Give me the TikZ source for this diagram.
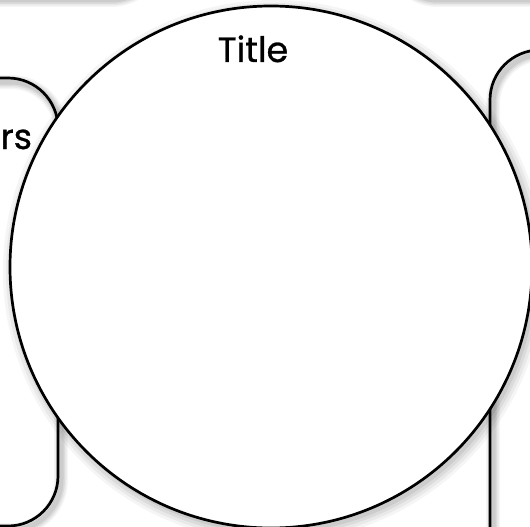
\documentclass[tikz,border=0pt]{standalone}
\usepackage{fontspec}
\setmainfont{Poppins}
\newfontfamily\medfont{Poppins}[FakeBold=0.8]
\begin{document}
\begin{tikzpicture}[x=1pt,y=-1pt,
  outline/.style={draw=black, line width=2.7pt},
  shadowline/.style={draw=black, shift={(3,4)}},
  lbl/.style={font=\medfont\fontsize{35}{40}\selectfont, inner sep=0pt, text=black}]
\useasboundingbox (0,0) rectangle (530,527);
% shadows of strokes (top shapes, side panels)
\foreach \w/\o in {14/0.04,11/0.05,8/0.06,5/0.07} {
  \draw[shadowline, opacity=\o, line width=\w pt, rounded corners=50pt] (-200,-300) rectangle (158,-4);
  \draw[shadowline, opacity=\o, line width=\w pt, rounded corners=50pt] (385,-300) rectangle (760,-4);
  \draw[shadowline, opacity=\o, line width=\w pt, rounded corners=50pt] (-200,78) rectangle (58,526);
  \draw[shadowline, opacity=\o, line width=\w pt, rounded corners=50pt] (490,50) rectangle (760,760);
}
% panels
\draw[outline, rounded corners=50pt] (-200,-300) rectangle (158,-4);
\draw[outline, rounded corners=50pt] (385,-300) rectangle (760,-4);
\draw[outline, rounded corners=50pt] (-200,78) rectangle (58,526);
\draw[outline, rounded corners=50pt] (490,50) rectangle (760,760);
% circle shadow
\foreach \r/\o in {10/0.04,7/0.05,4/0.06,1/0.07} {
  \fill[black, opacity=\o] (274,271) circle ({261+\r});
}
% main circle
\draw[outline, fill=white] (271,267) circle (261);
% texts
\node[lbl, anchor=base] (title) at (253,62) {Title};
\node[lbl, anchor=base west] (side) at (0.5,149) {rs};
\end{tikzpicture}
\end{document}
